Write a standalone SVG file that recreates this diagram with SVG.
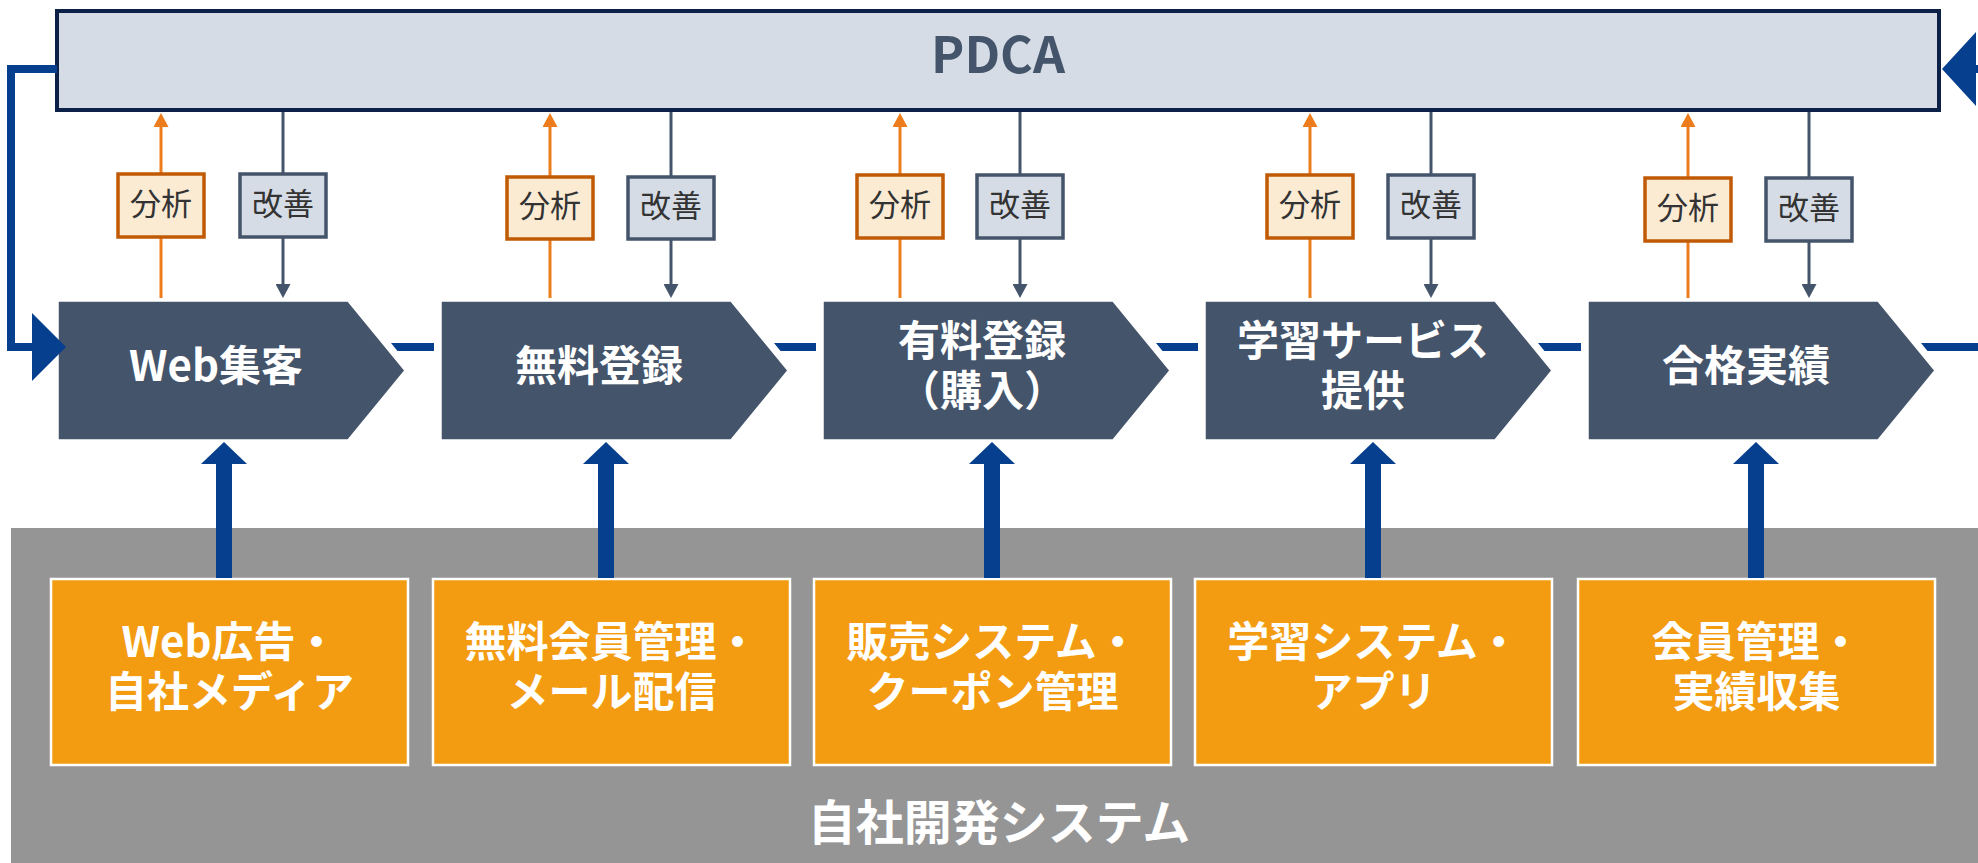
<svg xmlns="http://www.w3.org/2000/svg" width="1978" height="863" viewBox="0 0 1978 863">
<defs>
<style>
.t{font-family:"Noto Sans CJK JP","Noto Sans",sans-serif;text-anchor:middle}
.chev{fill:#44546A;stroke:#ffffff;stroke-width:1.5}
.ct{font-size:42px;font-weight:700;fill:#ffffff}
.sys{fill:#F39C12;stroke:#ffffff;stroke-width:2.5}
.ana{fill:#FCEBD3;stroke:#C05A05;stroke-width:3.5}
.imp{fill:#D6DCE5;stroke:#44546A;stroke-width:3.5}
.st{font-size:31px;fill:#333333}
.oline{stroke:#ED7D1C;stroke-width:3;fill:none}
.sline{stroke:#44546A;stroke-width:3;fill:none}
.bline{stroke:#063F8D;stroke-width:16;fill:none}
.blue{fill:#063F8D}
</style>
<marker id="mo" viewBox="0 0 14 15" refX="0" refY="7.5" markerWidth="14" markerHeight="15" markerUnits="userSpaceOnUse" orient="auto"><path d="M0,0 L14,7.5 L0,15 z" fill="#ED7D1C"/></marker>
<marker id="ms" viewBox="0 0 14 15" refX="0" refY="7.5" markerWidth="14" markerHeight="15" markerUnits="userSpaceOnUse" orient="auto"><path d="M0,0 L14,7.5 L0,15 z" fill="#44546A"/></marker>
<marker id="mb" viewBox="0 0 22 46" refX="0" refY="23" markerWidth="22" markerHeight="46" markerUnits="userSpaceOnUse" orient="auto"><path d="M0,0 L22,23 L0,46 z" fill="#063F8D"/></marker>
</defs>
<rect width="1978" height="863" fill="#ffffff"/>

<g id="system-area">
<rect x="11" y="528" width="1967" height="335" fill="#959595"/>
<text class="t" x="999" y="840" font-size="48" font-weight="700" fill="#ffffff">自社開発システム</text>
</g>

<g id="pdca">
<rect x="57" y="11" width="1882" height="99" fill="#D6DCE5" stroke="#0C2048" stroke-width="4"/>
<text class="t" x="998" y="73" font-size="50" font-weight="700" fill="#44546A">PDCA</text>
</g>

<g id="stage1">
<polygon class="chev" points="58,301 348,301 405,370.5 348,440 58,440"/>
<text class="t ct" x="216" y="381">Web集客</text>
</g>
<g id="stage2">
<polygon class="chev" points="441,301 731,301 788,370.5 731,440 441,440"/>
<text class="t ct" x="599" y="381">無料登録</text>
</g>
<g id="stage3">
<polygon class="chev" points="823,301 1113,301 1170,370.5 1113,440 823,440"/>
<text class="t ct" x="982" y="356">有料登録</text>
<text class="t ct" x="982" y="406">（購入）</text>
</g>
<g id="stage4">
<polygon class="chev" points="1205,301 1495,301 1552,370.5 1495,440 1205,440"/>
<text class="t ct" x="1363" y="356">学習サービス</text>
<text class="t ct" x="1363" y="406">提供</text>
</g>
<g id="stage5">
<polygon class="chev" points="1588,301 1878,301 1935,370.5 1878,440 1588,440"/>
<text class="t ct" x="1746" y="381">合格実績</text>
</g>

<g id="sys1">
<rect class="sys" x="51" y="579" width="357" height="186"/>
<text class="t ct" x="229.5" y="657">Web広告・</text>
<text class="t ct" x="229.5" y="707">自社メディア</text>
</g>
<g id="sys2">
<rect class="sys" x="433" y="579" width="357" height="186"/>
<text class="t ct" x="611.5" y="657">無料会員管理・</text>
<text class="t ct" x="611.5" y="707">メール配信</text>
</g>
<g id="sys3">
<rect class="sys" x="814" y="579" width="357" height="186"/>
<text class="t ct" x="992.5" y="657">販売システム・</text>
<text class="t ct" x="992.5" y="707">クーポン管理</text>
</g>
<g id="sys4">
<rect class="sys" x="1195" y="579" width="357" height="186"/>
<text class="t ct" x="1373.5" y="657">学習システム・</text>
<text class="t ct" x="1373.5" y="707">アプリ</text>
</g>
<g id="sys5">
<rect class="sys" x="1578" y="579" width="357" height="186"/>
<text class="t ct" x="1756.5" y="657">会員管理・</text>
<text class="t ct" x="1756.5" y="707">実績収集</text>
</g>

<g id="connectors">
<!-- flow lines between stages -->
<polygon class="blue" points="391,343 434,343 434,351 397.5,351"/>
<polygon class="blue" points="774,343 816,343 816,351 780.5,351"/>
<polygon class="blue" points="1156,343 1198,343 1198,351 1162.5,351"/>
<polygon class="blue" points="1538,343 1581,343 1581,351 1544.5,351"/>
<polygon class="blue" points="1921,343 1978,343 1978,351 1927.5,351"/>
<!-- loop back -->
<path d="M57,69 H11 V347 H34" stroke="#063F8D" stroke-width="8" fill="none"/>
<polygon class="blue" points="32,313 66,347 32,381"/>
<rect class="blue" x="1975" y="65" width="3" height="8"/>
<polygon class="blue" points="1942,69 1976,32 1976,106"/>
<!-- analysis up arrows -->
<path class="oline" d="M161,298 V127" marker-end="url(#mo)"/>
<path class="oline" d="M550,298 V127" marker-end="url(#mo)"/>
<path class="oline" d="M900,298 V127" marker-end="url(#mo)"/>
<path class="oline" d="M1310,298 V127" marker-end="url(#mo)"/>
<path class="oline" d="M1688,298 V127" marker-end="url(#mo)"/>
<!-- improvement down arrows -->
<path class="sline" d="M283,112 V284" marker-end="url(#ms)"/>
<path class="sline" d="M671,112 V284" marker-end="url(#ms)"/>
<path class="sline" d="M1020,112 V284" marker-end="url(#ms)"/>
<path class="sline" d="M1431,112 V284" marker-end="url(#ms)"/>
<path class="sline" d="M1809,112 V284" marker-end="url(#ms)"/>
<!-- system up arrows -->
<path class="bline" d="M224,578 V464" marker-end="url(#mb)"/>
<path class="bline" d="M606,578 V464" marker-end="url(#mb)"/>
<path class="bline" d="M992,578 V464" marker-end="url(#mb)"/>
<path class="bline" d="M1373,578 V464" marker-end="url(#mb)"/>
<path class="bline" d="M1756,578 V464" marker-end="url(#mb)"/>
</g>

<g id="analysis1"><rect class="ana" x="118" y="174" width="86" height="63"/><text class="t st" x="161" y="215">分析</text></g>
<g id="improve1"><rect class="imp" x="240" y="174" width="86" height="63"/><text class="t st" x="283" y="215">改善</text></g>
<g id="analysis2"><rect class="ana" x="507" y="177" width="86" height="62"/><text class="t st" x="550" y="217">分析</text></g>
<g id="improve2"><rect class="imp" x="628" y="177" width="86" height="62"/><text class="t st" x="671" y="217">改善</text></g>
<g id="analysis3"><rect class="ana" x="857" y="175" width="86" height="63"/><text class="t st" x="900" y="216">分析</text></g>
<g id="improve3"><rect class="imp" x="977" y="175" width="86" height="63"/><text class="t st" x="1020" y="216">改善</text></g>
<g id="analysis4"><rect class="ana" x="1267" y="175" width="86" height="63"/><text class="t st" x="1310" y="216">分析</text></g>
<g id="improve4"><rect class="imp" x="1388" y="175" width="86" height="63"/><text class="t st" x="1431" y="216">改善</text></g>
<g id="analysis5"><rect class="ana" x="1645" y="178" width="86" height="63"/><text class="t st" x="1688" y="219">分析</text></g>
<g id="improve5"><rect class="imp" x="1766" y="178" width="86" height="63"/><text class="t st" x="1809" y="219">改善</text></g>
</svg>
